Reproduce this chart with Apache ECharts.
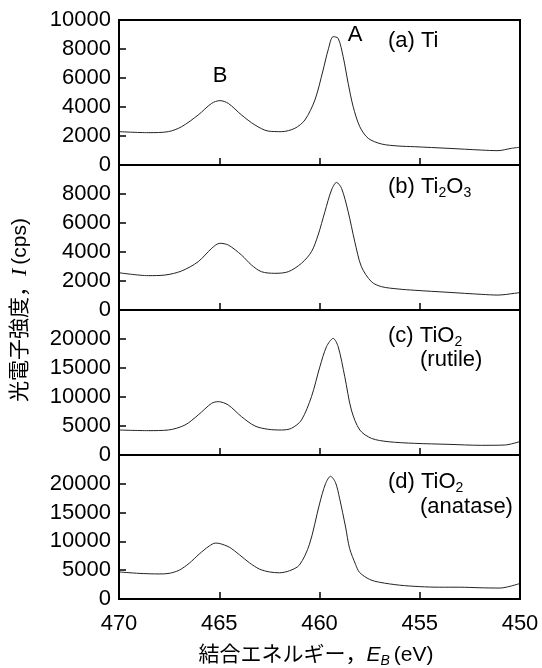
<!DOCTYPE html>
<html><head><meta charset="utf-8">
<script src="https://cdn.jsdelivr.net/npm/echarts@6/dist/echarts.min.js"></script>
<style>html,body{margin:0;padding:0;background:#fff;overflow:hidden}#c{width:542px;height:668px}</style>
</head><body><div id="c"></div>
<script>
// Binding energy (eV) and intensity (cps)
const energyA = [470.0,468.54,467.54,466.88,466.05,465.38,464.97,464.55,463.89,463.22,462.56,461.89,461.23,460.73,460.23,459.82,459.57,459.32,459.07,458.82,458.57,458.32,457.99,457.57,456.91,456.08,455.25,453.59,451.93,451.10,450.43,450.02];
const intensityA = [2300,2230,2300,2640,3450,4250,4440,4250,3450,2760,2340,2300,2530,3100,4480,6550,7930,8850,8740,7470,5630,4020,2640,1840,1450,1310,1260,1150,1030,990,1150,1220];

const energyB = [470.0,468.54,467.71,466.88,466.05,465.38,464.97,464.55,463.89,463.39,462.89,462.23,461.56,460.90,460.40,460.07,459.73,459.40,459.15,458.90,458.57,458.24,457.91,457.41,456.91,456.08,455.25,453.59,451.93,451.10,450.27,450.02];
const intensityB = [2570,2370,2410,2690,3330,4250,4600,4480,3790,3100,2640,2530,2640,3220,4020,5170,6780,8280,8800,8390,6780,4710,2990,1950,1610,1450,1360,1220,1080,1030,1150,1200];

const energyC = [470.0,468.54,467.54,466.71,466.05,465.38,465.05,464.55,463.89,463.22,462.56,461.89,461.40,460.90,460.40,459.98,459.65,459.32,459.07,458.74,458.41,457.99,457.41,456.58,455.25,453.59,451.93,450.76,450.02];
const intensityC = [4310,4200,4310,5170,6900,8910,9200,8620,6610,5000,4430,4310,4600,6030,10060,15230,18680,20110,18680,13510,7760,4310,2870,2300,2010,1840,1670,1720,2300];

const energyD = [470.0,469.0,468.0,467.5,467.0,466.5,466.0,465.5,465.2,465.0,464.5,464.0,463.5,463.0,462.5,462.0,461.5,461.0,460.5,460.0,459.7,459.45,459.2,459.0,458.7,458.5,458.2,458.0,457.5,457.0,456.0,455.0,454.0,453.0,452.0,451.0,450.5,450.0];
const intensityD = [4700,4450,4350,4450,5000,6200,7800,9200,9700,9650,9000,7700,6300,5200,4700,4550,4900,5900,9500,16500,20000,21300,20200,17500,12500,8800,6000,4600,3400,2900,2400,2150,2050,2050,1950,1900,2200,2700];

const xTicks = [470,465,460,455,450];
const yMaxAB = 10000, yStepAB = 2000;
const yMaxCD = 25000, yStepCD = 5000;

const FONT = '"Liberation Sans", Arial, "Noto Sans CJK JP", sans-serif';
const chart = echarts.init(document.getElementById('c'), null, {renderer:'canvas'});

const panels = [
  {e:energyA, v:intensityA, top:20, h:145, max:yMaxAB, step:yStepAB, showMax:true},
  {e:energyB, v:intensityB, top:165, h:145, max:yMaxAB, step:yStepAB, showMax:false},
  {e:energyC, v:intensityC, top:310, h:145, max:yMaxCD, step:yStepCD, showMax:false},
  {e:energyD, v:intensityD, top:455, h:144, max:yMaxCD, step:yStepCD, showMax:false}
];

const grid=[], xAxis=[], yAxis=[], series=[];
const frameLine = ()=>({show:true, onZero:false, lineStyle:{color:'#000', width:2}});
panels.forEach((p,i)=>{
  grid.push({left:119, width:401, top:p.top, height:p.h, show:false, containLabel:false, outerBoundsMode:'none'});
  xAxis.push({type:'value', gridIndex:i, position:'bottom', min:xTicks[4], max:xTicks[0], interval:5, inverse:true,
    axisLine:frameLine(),
    axisTick:{show:true, inside:true, length:7, lineStyle:{color:'#000', width:1.5}},
    axisLabel:{show:i===3, color:'#000', fontSize:22, fontFamily:FONT, margin:14},
    splitLine:{show:false}});
  yAxis.push({type:'value', gridIndex:i, position:'left', min:0, max:p.max, interval:p.step,
    axisLine:frameLine(),
    axisTick:{show:true, inside:true, length:7, lineStyle:{color:'#000', width:1.5}},
    axisLabel:{color:'#000', fontSize:22, fontFamily:FONT, margin:8, showMaxLabel:p.showMax, showMinLabel:true,
      formatter:(v)=>String(v)},
    splitLine:{show:false}});
  series.push({type:'line', xAxisIndex:i, yAxisIndex:i, showSymbol:false, smooth:0.3,
    lineStyle:{color:'#222', width:1}, data:p.e.map((x,k)=>[x,p.v[k]]), z:3});
});

const txt = (x,y,text,extra)=>Object.assign({type:'text', x:x, y:y, z:10,
  style:Object.assign({text:text, fill:'#000', font:'22px '+FONT, textAlign:'left', textVerticalAlign:'middle',
    rich:{sub:{fontSize:14, fontFamily:FONT, verticalAlign:'bottom', lineHeight:26},
          n:{fontSize:22, fontFamily:FONT, lineHeight:26}}}, extra||{})});

const graphic = [
  txt(355,35,'A',{textAlign:'center'}),
  txt(220,76,'B',{textAlign:'center'}),
  txt(388,41,'(a) Ti'),
  txt(388,187,'{n|(b) Ti}{sub|2}{n|O}{sub|3}'),
  txt(388,336,'{n|(c) TiO}{sub|2}'),
  txt(420,360,'(rutile)'),
  txt(388,482,'{n|(d) TiO}{sub|2}'),
  txt(420,507,'(anatase)'),
  {type:'text', x:20, y:310, rotation:Math.PI/2, z:10,
    style:{text:'{n|光電子強度，}{i|I}{n|(cps)}', fill:'#000', textAlign:'center', textVerticalAlign:'middle',
      rich:{n:{fontSize:21, fontFamily:FONT}, i:{fontSize:22, fontFamily:'"Liberation Serif", serif', fontStyle:'italic', padding:[0,4,0,0]}}}},
  {type:'text', x:316, y:655, z:10,
    style:{text:'{n|結合エネルギー，}{i|E}{sub|B}{n|(eV)}', fill:'#000', textAlign:'center', textVerticalAlign:'middle',
      rich:{n:{fontSize:21, fontFamily:FONT, lineHeight:26}, i:{fontSize:21, fontFamily:FONT, fontStyle:'italic', lineHeight:26},
            sub:{fontSize:14, fontFamily:FONT, fontStyle:'italic', verticalAlign:'bottom', lineHeight:26, padding:[0,4,0,0]}}}}
];

chart.setOption({animation:false, grid, xAxis, yAxis, series, graphic});

// panel frames, taken from each grid's own layout rectangle
const model = chart.getModel();
panels.forEach((p,i)=>{
  const r = model.getComponent('grid', i).coordinateSystem.getRect();
  graphic.push({type:'rect', z:100, silent:true,
    shape:{x:r.x, y:r.y, width:r.width, height:r.height},
    style:{fill:'none', stroke:'#000', lineWidth:2}});
  graphic.push({type:'line', z:101, silent:true,
    shape:{x1:r.x + r.width, y1:r.y, x2:r.x + r.width, y2:r.y + r.height},
    style:{stroke:'#000', lineWidth:2}});
});
chart.setOption({graphic}, {replaceMerge:['graphic']});
</script></body></html>
